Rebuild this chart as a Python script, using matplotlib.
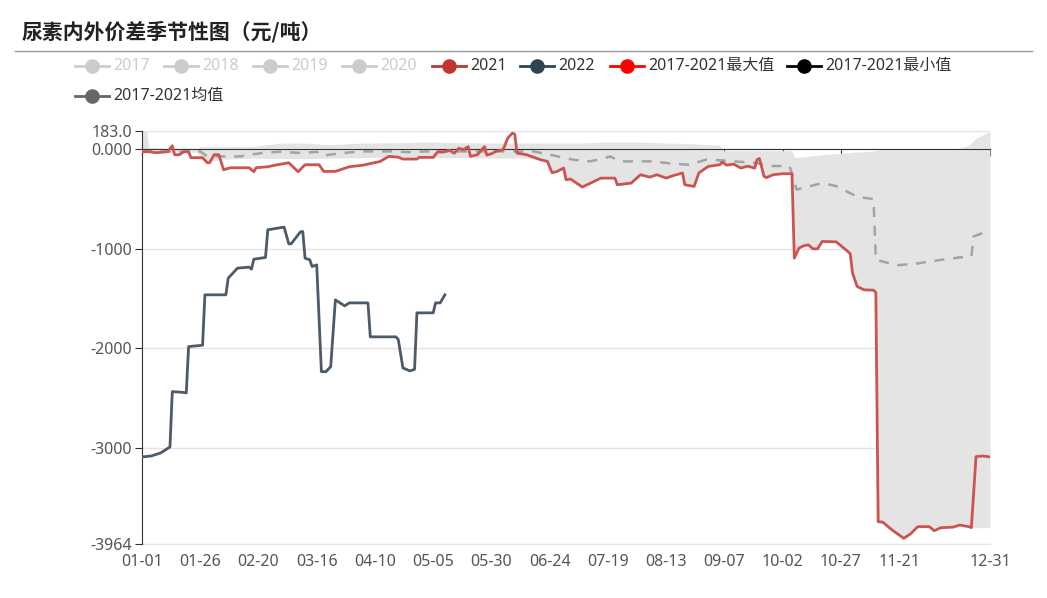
import numpy as np
import matplotlib
matplotlib.use("Agg")
import matplotlib.pyplot as plt
from matplotlib.lines import Line2D

plt.rcParams['font.family'] = ['Noto Sans', 'Noto Sans CJK SC', 'DejaVu Sans']

# DATA (x = day of year, 0 = 01-01 ... 364 = 12-31)
days_2021 = [0, 3, 6, 11, 13, 14, 16, 18, 20, 21, 26, 28, 29, 31, 33, 35, 38, 46, 48, 49,
             54, 58, 63, 67, 70, 76, 78, 83, 89, 95, 99, 102, 106, 110, 112, 118, 119, 125, 127, 129,
             132, 134, 136, 138, 140, 141, 144, 147, 148, 150, 152, 154, 155, 157, 159, 160, 161, 165, 171, 174,
             176, 178, 181, 182, 184, 189, 197, 203, 204, 210, 214, 218, 221, 225, 228, 232, 233, 237, 239, 243,
             248, 249, 251, 254, 257, 260, 263, 264, 265, 267, 268, 271, 275, 279, 280, 282, 284, 286, 288, 290,
             292, 298, 303, 304, 305, 307, 310, 314, 315, 316, 318, 322, 327, 330, 333, 338, 340, 343, 348, 351,
             355, 356, 358, 361, 364]
vals_2021 = [-25, -25, -35, -25, 35, -55, -55, -25, -25, -85, -85, -135, -135, -55, -55, -206, -186, -186, -226, -186,
             -176, -156, -136, -226, -156, -156, -223, -223, -176, -160, -139, -125, -72, -80, -99, -99, -82, -82, -24, -30,
             -10, -40, 10, -5, 26, -72, -55, 26, -60, -45, -20, -10, -5, 112, 162, 150, -40, -55, -105, -122,
             -236, -225, -189, -306, -300, -380, -290, -290, -357, -340, -256, -280, -256, -290, -265, -239, -357, -374, -239, -173,
             -156, -130, -160, -150, -189, -170, -190, -105, -93, -273, -285, -256, -246, -246, -1094, -993, -970, -960, -1000, -1000,
             -926, -930, -1027, -1050, -1244, -1379, -1412, -1415, -1440, -3740, -3745, -3824, -3907, -3860, -3790, -3790, -3830, -3800, -3795, -3774,
             -3790, -3800, -3087, -3080, -3090]

days_2022 = [0, 4, 8, 12, 13, 17, 19, 20, 26, 27, 36, 37, 41, 46, 47, 48, 53, 54, 61, 63,
             64, 68, 69, 70, 72, 73, 75, 77, 79, 81, 83, 87, 89, 97, 98, 109, 110, 112, 115, 117,
             118, 125, 126, 128, 130]
vals_2022 = [-3090, -3080, -3050, -2990, -2434, -2440, -2447, -1982, -1968, -1462, -1462, -1295, -1194, -1184, -1204, -1104, -1087, -809, -782, -950,
             -950, -830, -826, -1094, -1110, -1178, -1161, -2233, -2233, -2183, -1513, -1573, -1543, -1543, -1884, -1884, -1910, -2196, -2226, -2210,
             -1643, -1643, -1543, -1543, -1462]

days_mean = [0, 12, 25, 28, 42, 51, 59, 69, 75, 77, 86, 94, 108, 115, 122, 136, 168, 176, 185, 192,
             197, 201, 205, 219, 228, 235, 242, 248, 254, 264, 269, 278, 281, 292, 298, 307, 314, 315, 324, 332,
             343, 353, 356, 357, 361]
vals_mean = [-20, -25, -22, -72, -72, -39, -25, -39, -25, -65, -39, -22, -22, -30, -22, -22, -22, -60, -105, -122,
             -100, -72, -122, -122, -146, -156, -105, -110, -122, -139, -168, -170, -405, -340, -370, -478, -500, -1110, -1165, -1150,
             -1111, -1080, -1075, -876, -840]

# 2017-2021 max / min band
band_days = [0, 2, 3, 11, 24, 25, 30, 35, 48, 60, 70, 80, 94, 110, 122, 136, 150, 165, 171, 174,
             176, 178, 181, 182, 184, 189, 197, 203, 204, 210, 214, 218, 221, 225, 228, 232, 233, 237, 239, 243,
             248, 249, 251, 254, 257, 260, 263, 264, 265, 267, 268, 271, 275, 279, 280, 282, 284, 286, 288, 290,
             292, 298, 303, 304, 305, 307, 310, 314, 315, 316, 318, 322, 327, 330, 333, 338, 340, 343, 348, 351,
             355, 356, 358, 361, 364]
band_max = [180, 180, 15, 10, 10, 22, 25, 25, 30, 62, 62, 45, 62, 65, 72, 65, 62, 62, 62, 62,
            62, 62, 62, 62, 62, 62, 70, 72, 72, 72, 70, 68, 66, 62, 60, 58, 58, 55, 50, 45,
            40, -15, -15, -15, -15, -15, -15, -15, -15, -15, -15, -15, -15, -15, -80, -80, -75, -70, -65, -60,
            -55, -45, -35, -35, -30, -28, -25, -20, -15, -10, -5, 0, 0, 0, 0, 0, 5, 5, 5, 10,
            40, 62, 110, 145, 180]
band_min = [-30, -30, -30, -30, -30, -100, -120, -100, -90, -95, -95, -90, -85, -80, -85, -85, -89, -89, -105, -122,
            -236, -225, -189, -306, -300, -380, -290, -290, -357, -340, -256, -280, -256, -290, -265, -239, -357, -374, -239, -173,
            -156, -130, -160, -150, -189, -170, -190, -105, -93, -273, -285, -256, -246, -246, -1094, -993, -970, -960, -1000, -1000,
            -926, -930, -1027, -1050, -1244, -1379, -1412, -1415, -1440, -3740, -3745, -3824, -3907, -3860, -3790, -3790, -3830, -3800, -3795, -3774,
            -3790, -3800, -3800, -3800, -3800]

tick_days = [0, 25, 50, 75, 100, 125, 150, 175, 200, 225, 250, 275, 300, 325, 364]
tick_labels = ['01-01', '01-26', '02-20', '03-16', '04-10', '05-05', '05-30', '06-24',
               '07-19', '08-13', '09-07', '10-02', '10-27', '11-21', '12-31']
ytick_vals = [183, 0, -1000, -2000, -3000, -3964]
ytick_labels = ['183.0', '0.000', '-1000', '-2000', '-3000', '-3964']

legend_names = ['2017', '2018', '2019', '2020', '2021', '2022',
                '2017-2021最大值', '2017-2021最小值', '2017-2021均值']
legend_colors = ['#cccccc', '#cccccc', '#cccccc', '#cccccc', '#c23531', '#2f4554',
                 '#ff0000', '#000000', '#666666']

W, H = 1047, 598
fig = plt.figure(figsize=(W / 100, H / 100), dpi=100)
ax = fig.add_axes([142 / W, 1 - 544 / H, (990 - 142) / W, (544 - 131) / H])

ax.fill_between(band_days, band_min, band_max, color='#e4e4e4', lw=0, zorder=1)
ax.plot(days_mean, vals_mean, color='#a3a3a3', lw=1.8, dashes=(4, 3.5), zorder=3)
ax.plot(days_2021, vals_2021, color='#cc5450', lw=2, zorder=4)
ax.plot(days_2022, vals_2022, color='#4d5a68', lw=2, zorder=4)

ax.set_xlim(0, 364)
ax.set_ylim(-3964, 183)

# axes look
ax.set_yticks(ytick_vals)
ax.set_yticklabels(ytick_labels)
ax.yaxis.grid(True, color='#e3e3e3', lw=1)
ax.set_axisbelow(True)
ax.tick_params(axis='y', direction='out', length=5, color='#333333', labelcolor='#555555',
               labelsize=11.5, pad=2)
for s in ['top', 'right']:
    ax.spines[s].set_visible(False)
ax.spines['left'].set_color('#333333')
ax.spines['bottom'].set_position(('data', 0))
ax.spines['bottom'].set_color('#333333')
ax.spines['bottom'].set_zorder(3.5)
ax.set_xticks(tick_days)
ax.tick_params(axis='x', direction='out', length=5, color='#333333', labelbottom=False)

sec = ax.secondary_xaxis('bottom')
sec.set_xticks(tick_days)
sec.set_xticklabels(tick_labels)
sec.tick_params(length=0, pad=7, labelsize=11.5, labelcolor='#555555')
sec.spines['bottom'].set_color('#e3e3e3')

# title
fig.text(22 / W, 1 - 32 / H, '尿素内外价差季节性图（元/吨）', family=['Noto Sans CJK SC'],
         fontsize=15, fontweight='bold', color='#222222', va='center', ha='left')
fig.add_artist(Line2D([15 / W, 1032 / W], [1 - 51 / H, 1 - 51 / H], color='#9a9a9a', lw=1,
                      transform=fig.transFigure))

# legend drawn by hand (two rows)
leg_pos = [(92, 66), (181, 66), (270, 66), (359, 66), (449, 66), (537, 66), (627, 66), (804, 66), (92, 96)]
for (cx, cy), name, col in zip(leg_pos, legend_names, legend_colors):
    yy = 1 - cy / H
    fig.add_artist(Line2D([(cx - 17) / W, (cx + 17) / W], [yy, yy], color=col, lw=2,
                          transform=fig.transFigure))
    fig.add_artist(Line2D([cx / W], [yy], marker='o', markersize=9.5, color=col, lw=0,
                          transform=fig.transFigure))
    tcol = '#cccccc' if col == '#cccccc' else '#333333'
    fig.text((cx + 21) / W, yy, name, color=tcol, fontsize=11.5, va='center', ha='left')

fig.savefig('out.png', dpi=100)
